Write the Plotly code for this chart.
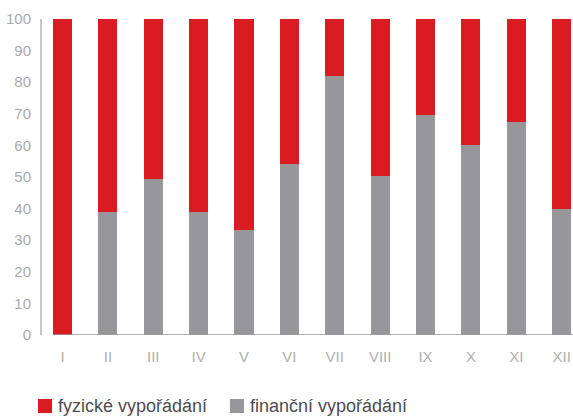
import plotly.graph_objects as go

months = ["I", "II", "III", "IV", "V", "VI", "VII", "VIII", "IX", "X", "XI", "XII"]
financni = [0, 39, 49.5, 39, 33.2, 54.1, 82, 50.3, 69.6, 60.1, 67.4, 39.9]
fyzicke = [round(100 - v, 1) for v in financni]
y_ticks = [0, 10, 20, 30, 40, 50, 60, 70, 80, 90, 100]
series_names = ["fyzické vypořádání", "finanční vypořádání"]

RED = "#DA1B22"
GREY = "#97979B"

W, H = 573, 416
L, R, T, B = 42, 0, 19, 81
PW, PH = W - L - R, H - T - B


def px_x(p):
    return (p - L) / PW


def px_y(p):
    return (H - B - p) / PH


fig = go.Figure()
fig.add_trace(go.Bar(x=months, y=financni, name=series_names[1],
                     marker=dict(color=GREY, line=dict(width=0)), width=0.42))
fig.add_trace(go.Bar(x=months, y=fyzicke, name=series_names[0],
                     marker=dict(color=RED, line=dict(width=0)), width=0.42))

fig.add_shape(type="line", xref="x", yref="y", x0=-0.21, x1=11.3, y0=0, y1=0,
              line=dict(color="#9a9a9a", width=1.5), layer="above")

# custom legend
legend_items = [(38, RED, series_names[0]), (230, GREY, series_names[1])]
for x0, col, name in legend_items:
    fig.add_shape(type="rect", xref="paper", yref="paper",
                  x0=px_x(x0), x1=px_x(x0 + 14), y0=px_y(399), y1=px_y(413),
                  fillcolor=col, line=dict(width=0))
    fig.add_annotation(xref="paper", yref="paper", x=px_x(x0 + 18), y=px_y(406),
                       xanchor="left", yanchor="middle", text=name, showarrow=False,
                       font=dict(size=18, color="#4d4d4d"))

fig.update_layout(
    width=W, height=H,
    margin=dict(l=L, r=R, t=T, b=B, autoexpand=False),
    barmode="stack",
    plot_bgcolor="white", paper_bgcolor="white",
    font=dict(family="Liberation Sans, Arial, sans-serif", color="#aaaaaa", size=15),
    showlegend=False,
    xaxis=dict(type="category", range=[-0.452, 11.25], showline=False, showgrid=False,
               ticks="", tickfont=dict(size=15, color="#b0b0b0"), ticklabelstandoff=11,
               automargin=False),
    yaxis=dict(range=[0, 100], tickvals=y_ticks, showgrid=False, zeroline=False,
               showline=True, linecolor="#c8c8c8", linewidth=2, ticks="",
               tickfont=dict(size=15, color="#aaaaaa"), ticklabelstandoff=6,
               automargin=False),
    bargap=0,
)

fig.write_html("out.html", config={"displayModeBar": False},
               post_script="document.body.style.margin='0';document.body.style.overflow='hidden';")
